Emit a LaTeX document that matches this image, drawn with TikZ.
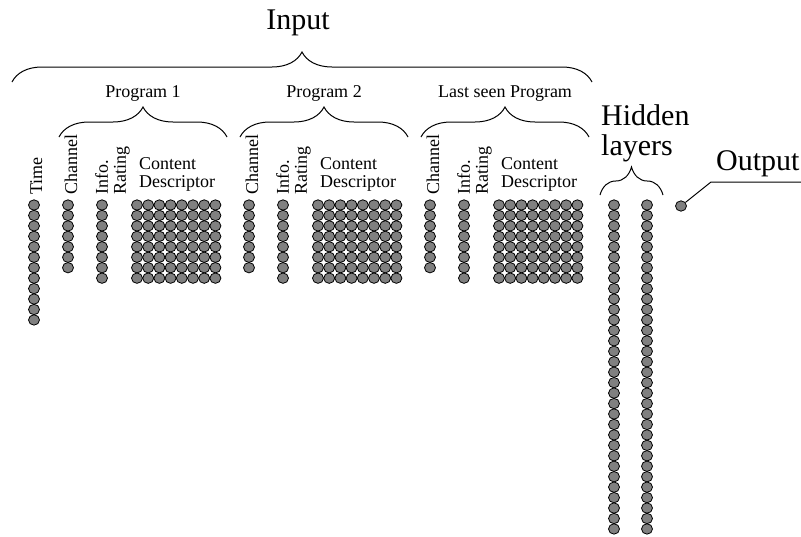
\documentclass[tikz,border=0pt]{standalone}
\usepackage{fontspec}
\setmainfont{Liberation Serif}
\usetikzlibrary{shapes.geometric, decorations.pathreplacing}

\tikzset{
  neuron/.style={ellipse, draw=black, fill=gray, line width=0.8pt,
    minimum width=11pt, minimum height=10.4pt, inner sep=0pt},
  lbl/.style={font=\fontsize{18}{18}\selectfont, inner sep=0pt},
  biglbl/.style={font=\fontsize{30}{30}\selectfont, inner sep=0pt},
  brc/.style={decorate, decoration={brace, amplitude=#1}, line width=1pt},
  brc/.default=30
}

\begin{document}
\begin{tikzpicture}[x=1pt, y=-1pt]
  \useasboundingbox (0,0) rectangle (801,536);

  %Time
  \foreach \i in {1,...,12}
    \node[neuron] (t\i) at (34, {205+10.45*(\i-1)}) {};
  \node[lbl, rotate=90, anchor=base west] (tl) at (42,195) {Time};

  %Programs
  \foreach \p/\off in {1/0, 2/181, 3/362} {
    \foreach \i in {1,...,7}
      \node[neuron] (ch\p-\i) at ({68+\off}, {205+10.45*(\i-1)}) {};
    \foreach \i in {1,...,8}
      \node[neuron] (ir\p-\i) at ({102+\off}, {205+10.45*(\i-1)}) {};
    \foreach \i in {1,...,8}
      \foreach \j in {1,...,8}
        \node[neuron] (cd\p-\i-\j) at ({137+\off+11.2*(\j-1)}, {205+10.45*(\i-1)}) {};

    \node[lbl, rotate=90, anchor=base west] (chl\p) at ({77+\off},195) {Channel};
    \node[lbl, rotate=90, anchor=south west, align=left] (irl\p) at ({130+\off},195) {Info.\\Rating};
    \node[lbl, anchor=north west, align=left] (cdl\p) at ({139+\off},157) {Content\\Descriptor};

    \coordinate (pl\p) at ({59+\off},137);
    \coordinate (pr\p) at ({227+\off},137);
    \draw[brc] (pl\p) -- (pr\p);
  }
  \node[lbl, anchor=base] (prog1) at (143,97) {Program 1};
  \node[lbl, anchor=base] (prog2) at (324,97) {Program 2};
  \node[lbl, anchor=base] (prog3) at (505,97) {Last seen Program};

  %Input
  \coordinate (inl) at (12,82);
  \coordinate (inr) at (592,82);
  \draw[brc] (inl) -- (inr);
  \node[biglbl, anchor=base] (input) at (298,29) {Input};

  %Hidden layers
  \foreach \i in {1,...,32} {
    \node[neuron] (ha\i) at (614, {205+10.45*(\i-1)}) {};
    \node[neuron] (hb\i) at (647, {205+10.45*(\i-1)}) {};
  }
  \coordinate (hl) at (600,195);
  \coordinate (hr) at (663,195);
  \draw[brc=28] (hl) -- (hr);
  \node[biglbl, anchor=north west, align=left] (hid) at (601,104.5) {Hidden\\layers};

  %Output
  \node[neuron] (out) at (681,206) {};
  \coordinate (outk) at (711,182);
  \coordinate (oute) at (801,182);
  \draw[line width=1pt] (out) -- (outk) -- (oute);
  \node[biglbl, anchor=base west] (outl) at (716,170) {Output};
\end{tikzpicture}
\end{document}
